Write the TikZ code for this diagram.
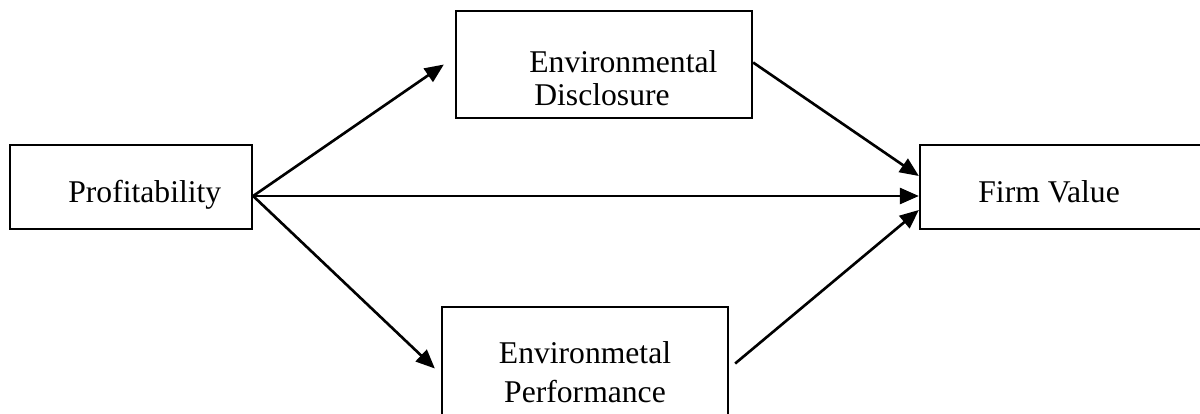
\documentclass[tikz,border=0pt]{standalone}
\usepackage{fontspec}
\setmainfont{Liberation Serif}
\usetikzlibrary{arrows.meta,calc}
\definecolor{PathInk}{HTML}{000000}
\tikzset{
  every node/.style={font=\fontsize{18}{20}\selectfont, text=PathInk},
  varbox/.style={draw=PathInk, line width=1.3pt, inner sep=0pt},
  vartext/.style={anchor=base west, inner sep=0pt},
  link/.style={-{Triangle[length=3.8mm,width=3.2mm]}, draw=PathInk, line width=1.5pt},
}
\begin{document}
\begin{tikzpicture}[x=0.2mm,y=-0.2mm]
  \useasboundingbox (0,0) rectangle (1200,413);
  \clip (0,0) rectangle (1200,413);
  % Variable boxes
  \node[varbox, minimum width=48.4mm, minimum height=16.8mm] (prof) at (131,187) {};
  \node[varbox, minimum width=59.2mm, minimum height=21.4mm] (disc) at (604,64.5) {};
  \node[varbox, minimum width=57.2mm, minimum height=16.8mm] (firm) at (1063,187) {};
  \node[varbox, minimum width=57.2mm, minimum height=22.6mm] (perf) at (585,363.5) {};
  % Box texts
  \node[vartext] (proftext) at (68,202) {Profitability};
  \node[vartext] (disctexta) at (529,72) {Environmental};
  \node[vartext] (disctextb) at (534,105) {Disclosure};
  \node[vartext] (firmtext) at (978,202) {Firm Value};
  \node[vartext, anchor=base] (perftexta) at (585,363) {Environmetal};
  \node[vartext, anchor=base] (perftextb) at (585,402) {Performance};
  % Arrow ends
  \coordinate (src) at ($(prof.east)+(0,9)$);
  \coordinate (discin) at ($(disc.west)+(-11,0)$);
  \coordinate (perfin) at ($(perf.west)+(-6,5)$);
  % Paths
  \draw[link] (src) -- (discin);
  \draw[link] (src) -- ($(firm.west)+(0,9)$);
  \draw[link] (src) -- (perfin);
  \draw[link] ($(disc.east)+(0,-2)$) -- ($(firm.west)+(0,-11)$);
  \draw[link] ($(perf.east)+(6,0)$) -- ($(firm.west)+(0,23)$);
\end{tikzpicture}
\end{document}
